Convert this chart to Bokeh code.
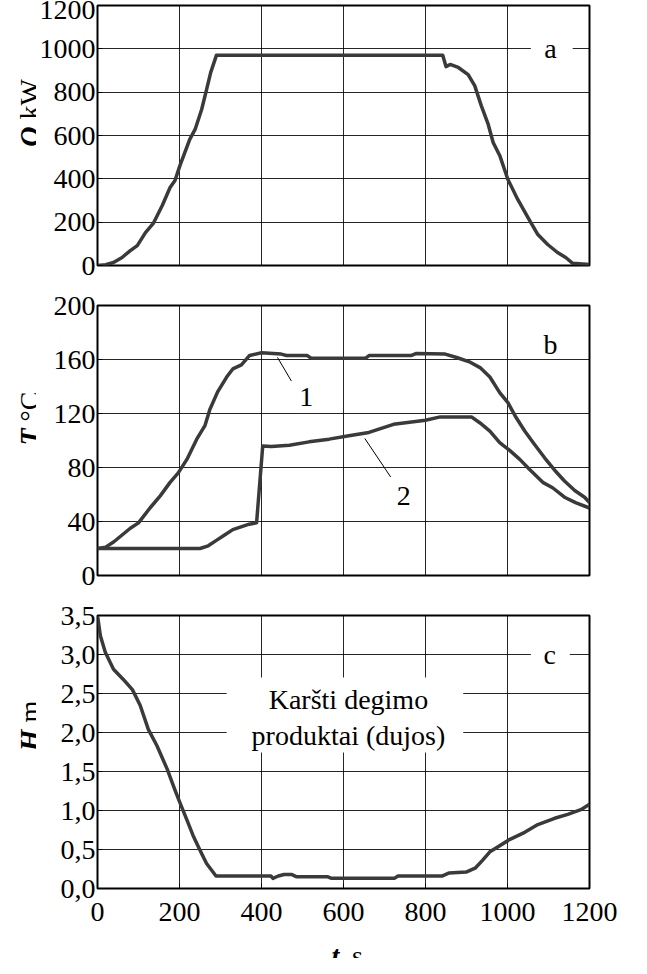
import math
from bokeh.plotting import figure
from bokeh.layouts import column, row
from bokeh.models import Range1d, FixedTicker, Label, BoxAnnotation
from bokeh.core.properties import value
from bokeh.embed import file_html
from bokeh.resources import INLINE

# ---- data ----
t_q = [0, 20, 39, 60, 80, 97, 117, 136, 158, 177, 189, 201, 225, 238, 254, 266, 276, 290,
       842, 850, 860, 880, 904, 920, 936, 953, 965, 981, 1001, 1025, 1050, 1074, 1098,
       1122, 1142, 1159, 1200]
q_kw = [0, 4, 14, 37, 69, 92, 152, 194, 277, 360, 392, 461, 582, 628, 720, 812, 890, 970,
        970, 918, 928, 914, 881, 830, 738, 651, 568, 508, 397, 305, 221, 143, 97,
        60, 37, 10, 5]

t_temp1 = [0, 20, 40, 60, 80, 100, 128, 153, 177, 197, 218, 242, 262, 274, 293, 315, 330,
           351, 371, 400, 448, 461, 511, 521, 654, 663, 766, 778, 848, 876, 909, 933, 957,
           981, 1001, 1021, 1042, 1066, 1091, 1115, 1139, 1164, 1188, 1200]
temp1 = [20, 21, 25, 30, 35, 39, 50, 59, 69, 76, 86, 101, 111, 123, 136, 147, 153,
         156, 163, 165, 164, 163, 163, 161, 161, 163, 163, 164.5, 164, 161.5, 158, 154, 147,
         135.5, 128, 117, 107, 97, 87, 78, 70, 63, 58, 54]

t_temp2 = [0, 100, 250, 270, 290, 310, 330, 350, 370, 388, 403, 424, 468, 516, 565, 613,
           662, 722, 800, 836, 912, 933, 957, 981, 1006, 1030, 1054, 1086, 1110, 1139,
           1166, 1200]
temp2 = [20, 20, 20, 22, 26, 30, 34, 36, 38, 39, 96, 95.5, 96.5, 99, 101, 103.5,
         106, 112, 115, 117.5, 117.5, 113, 107, 98.5, 92.5, 86, 78.5, 69, 65, 58,
         54, 50]

t_h = [0, 7, 19, 39, 63, 85, 104, 124, 145, 170, 189, 201, 218, 233, 250, 266, 289,
       423, 428, 441, 455, 473, 486, 562, 571, 724, 733, 840, 858, 899, 921, 939, 957,
       972, 1006, 1042, 1074, 1115, 1147, 1179, 1200]
h_m = [3.5, 3.24, 3.03, 2.81, 2.68, 2.55, 2.35, 2.04, 1.83, 1.53, 1.26, 1.10, 0.88, 0.68,
       0.49, 0.32, 0.16, 0.16, 0.13, 0.16, 0.18, 0.18, 0.15, 0.15, 0.13, 0.13, 0.16,
       0.16, 0.20, 0.21, 0.26, 0.36, 0.47, 0.52, 0.63, 0.72, 0.82, 0.90, 0.95, 1.01, 1.08]

x_ticks = [0, 200, 400, 600, 800, 1000, 1200]
q_ticks = [0, 200, 400, 600, 800, 1000, 1200]
temp_ticks = [0, 40, 80, 120, 160, 200]
h_ticks = [0.0, 0.5, 1.0, 1.5, 2.0, 2.5, 3.0, 3.5]
h_tick_labels = ["0,0", "0,5", "1,0", "1,5", "2,0", "2,5", "3,0", "3,5"]

FONT = "Liberation Serif"
FS = "28px"
LINE_COLOR = "#3a3a3a"
NBSP = "\u00a0"
LEFT_W = 36
BORDER_L = 58
MAIN_W = BORDER_L + 495 + 30
H_A, H_B, H_C, H_T = 285, 310, 341, 22


def make_fig(height, yr, yticks, top, bottom):
    p = figure(width=MAIN_W, height=height, x_range=Range1d(0, 1200), y_range=Range1d(*yr),
               output_backend="svg", toolbar_location=None,
               min_border_left=BORDER_L, min_border_right=30,
               min_border_top=top, min_border_bottom=bottom)
    p.outline_line_color = "black"
    p.outline_line_width = 2
    p.xaxis.ticker = FixedTicker(ticks=x_ticks)
    p.yaxis.ticker = FixedTicker(ticks=yticks)
    p.xgrid.ticker = FixedTicker(ticks=x_ticks)
    p.ygrid.ticker = FixedTicker(ticks=yticks)
    for g in (p.xgrid, p.ygrid):
        g.grid_line_color = "black"
        g.grid_line_width = 1
        g.grid_line_alpha = 0.85
    for ax in (p.xaxis, p.yaxis):
        ax.axis_line_color = None
        ax.major_tick_in = 5
        ax.major_tick_out = 0
        ax.minor_tick_line_color = None
        ax.major_tick_line_color = "black"
        ax.major_tick_line_width = 1
        ax.major_label_text_font = FONT
        ax.major_label_text_font_size = FS
        ax.major_label_text_color = "black"
    p.yaxis.major_label_standoff = 2
    p.xaxis.major_label_standoff = 14
    p.background_fill_color = "white"
    p.border_fill_color = "white"
    return p


def add_text(p, x, y, text, align="center", baseline="middle", style="normal"):
    p.add_layout(Label(x=x, y=y, text=text, text_align=align, text_baseline=baseline,
                       text_font=FONT, text_font_size=FS, text_font_style=style,
                       text_color="black"))


def white_box(p, l, r, b, t):
    p.add_layout(BoxAnnotation(left=l, right=r, bottom=b, top=t, fill_color="white",
                               fill_alpha=1.0, line_alpha=0))


def bare_fig(width, height, xr, yr, left=0, right=0):
    p = figure(width=width, height=height, x_range=Range1d(*xr), y_range=Range1d(*yr),
               output_backend="svg", toolbar_location=None,
               min_border_left=left, min_border_right=right, min_border_top=0,
               min_border_bottom=0)
    p.axis.visible = False
    p.grid.visible = False
    p.outline_line_color = None
    p.background_fill_color = "white"
    p.border_fill_color = "white"
    return p


def glyph_text(p, x, y, text, align, angle=0.0, style="normal"):
    p.text(x=[x], y=[y], text=[text], angle=angle, text_align=align,
           text_baseline="alphabetic", text_font=value(FONT), text_font_size=FS,
           text_font_style=style, text_color="black")


# ---- panel a ----
pa = make_fig(H_A, (0, 1200), q_ticks, 5, 20)
pa.xaxis.visible = False
pa.line(t_q, q_kw, line_color=LINE_COLOR, line_width=3.5, line_join="round")
white_box(pa, 1057, 1159, 985, 1015)
add_text(pa, 1105, 1000, "a")

# ---- panel b ----
pb = make_fig(H_B, (0, 200), temp_ticks, 20, 20)
pb.xaxis.visible = False
pb.line(t_temp1, temp1, line_color=LINE_COLOR, line_width=3.5, line_join="round")
pb.line(t_temp2, temp2, line_color=LINE_COLOR, line_width=3.5, line_join="round")
pb.segment(x0=[439, 652], y0=[161.5, 101.5], x1=[473, 715], y1=[144, 73],
           line_color="black", line_width=1)
add_text(pb, 509, 132, "1")
add_text(pb, 747, 59, "2")
add_text(pb, 1105, 171, "b")

# ---- panel c ----
pc = make_fig(H_C, (0, 3.5), h_ticks, 20, 48)
pc.yaxis.major_label_overrides = {v: s for v, s in zip(h_ticks, h_tick_labels)}
pc.line(t_h, h_m, line_color=LINE_COLOR, line_width=3.5, line_join="round")
white_box(pc, 1057, 1152, 2.95, 3.05)
add_text(pc, 1103, 3.0, "c")
white_box(pc, 315, 892, 1.744, 2.705)
add_text(pc, 612, 2.42, "Karšti degimo")
add_text(pc, 612, 1.96, "produktai (dujos)")

# ---- x axis title strip ----
pt = bare_fig(MAIN_W, H_T, (0, 1200), (0, H_T), left=BORDER_L, right=30)
glyph_text(pt, 590, 3, "t", "right", style="bold italic")
glyph_text(pt, 590, 3, NBSP + "\u2009s", "left")

# ---- y axis titles strip (y measured upward from the strip bottom) ----
TOTAL_H = H_A + H_B + H_C + H_T
pl = bare_fig(LEFT_W, TOTAL_H, (0, LEFT_W), (0, TOTAL_H))
glyph_text(pl, 29, 832, "Q", "right", angle=math.pi / 2, style="bold italic")
glyph_text(pl, 29, 832, NBSP + "kW", "left", angle=math.pi / 2)
glyph_text(pl, 29, 530, "T", "right", angle=math.pi / 2, style="bold italic")
glyph_text(pl, 29, 530, NBSP + "\u00b0C", "left", angle=math.pi / 2)
glyph_text(pl, 29, 229, "H", "right", angle=math.pi / 2, style="bold italic")
glyph_text(pl, 29, 229, NBSP + "m", "left", angle=math.pi / 2)

layout = row(pl, column(pa, pb, pc, pt, spacing=0), spacing=0)
open("out.html", "w").write(file_html(layout, INLINE))
